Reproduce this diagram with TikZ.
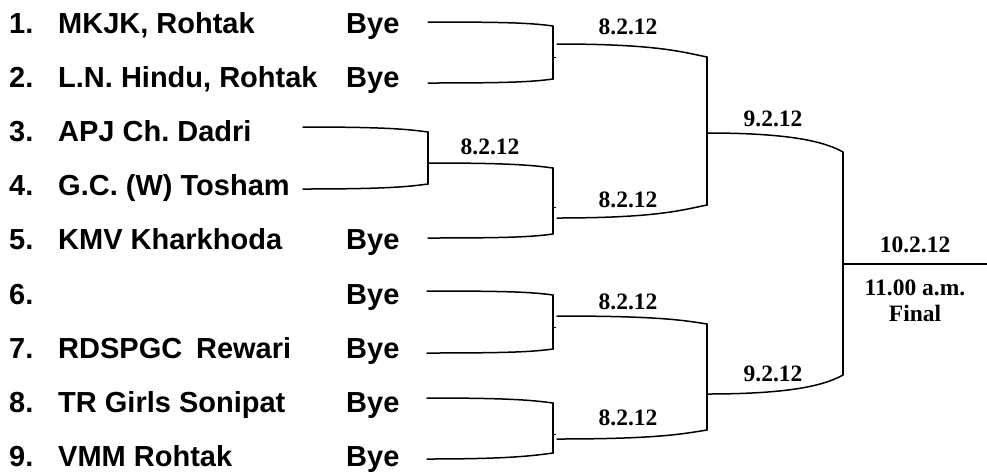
\documentclass[tikz,border=0pt]{standalone}
\usepackage{fontspec}
\setmainfont{Liberation Serif}
\newfontfamily\teamfont{Liberation Sans}
\frenchspacing
\begin{document}
\begin{tikzpicture}[x=1pt,y=-1pt,
  team/.style={anchor=base west,inner sep=0pt,font=\teamfont\bfseries\fontsize{29}{31}\selectfont},
  datelbl/.style={anchor=center,inner sep=0pt,font=\bfseries\fontsize{23.5}{26}\selectfont},
  ln/.style={line width=1.5pt,line cap=round,line join=round}]
\useasboundingbox (0,0) rectangle (987,475);
% team list
\foreach \n/\nm/\by [count=\i from 0] in {1./{MKJK, Rohtak}/Bye, 2./{L.N. Hindu, Rohtak}/Bye, 3./{APJ Ch. Dadri}/, 4./{G.C. (W) Tosham}/, 5./{KMV Kharkhoda}/Bye, 6./{}/Bye, 7./{RDSPGC\hspace{0.2em} Rewari}/Bye, 8./{TR Girls Sonipat}/Bye, 9./{VMM Rohtak}/Bye}{
  \node[team] (num\i) at (9,33+54.2*\i) {\n};
  \node[team] (name\i) at (58,33+54.2*\i) {\nm};
  \node[team] (bye\i) at (346,33+54.2*\i) {\by};
}
% coordinates: round 1
\coordinate (s1) at (428,22);  \coordinate (e1) at (553,26);
\coordinate (s2) at (428,83);  \coordinate (e2) at (553,79);
\coordinate (s3) at (303,127); \coordinate (e3) at (428,132);
\coordinate (s4) at (303,189); \coordinate (e4) at (428,184);
\coordinate (s5) at (428,238); \coordinate (e5) at (553,234);
\coordinate (s6) at (427,291); \coordinate (e6) at (553,295);
\coordinate (s7) at (427,353); \coordinate (e7) at (553,349);
\coordinate (s8) at (427,398); \coordinate (e8) at (553,403);
\coordinate (s9) at (427,459); \coordinate (e9) at (553,453);
% round 1 arms
\foreach \k in {1,3,6,8}{
  \draw[ln] (s\k) .. controls +(80,0) and +(-22,-3) .. (e\k);
}
\foreach \k in {2,4,5,7,9}{
  \draw[ln] (s\k) .. controls +(80,0) and +(-22,3) .. (e\k);
}
% outputs of bracket 3-4
\coordinate (s34) at (428,163); \coordinate (e34) at (553,168);
\draw[ln] (e3) -- (e4);
\draw[ln] (s34) .. controls +(80,0) and +(-22,-3) .. (e34);
% verticals of round-1 brackets at x=553
\draw[ln] (e1) -- (e2);
\draw[ln] (e34) -- (e5);
\draw[ln] (e6) -- (e7);
\draw[ln] (e8) -- (e9);
% small ticks
\foreach \yy in {57,207,327,434}{ \draw[line width=1pt] (553,\yy) -- (556,\yy); }
% round 2 arms
\coordinate (r1s) at (557,44);  \coordinate (r1e) at (707,57);
\coordinate (r2s) at (557,218); \coordinate (r2e) at (707,205);
\coordinate (r3s) at (557,316); \coordinate (r3e) at (707,324);
\coordinate (r4s) at (557,439); \coordinate (r4e) at (707,430);
\draw[ln] (r1s) .. controls +(100,0) and +(-25,-5) .. (r1e);
\draw[ln] (r2s) .. controls +(100,0) and +(-25,5) .. (r2e);
\draw[ln] (r3s) .. controls +(100,0) and +(-25,-4) .. (r3e);
\draw[ln] (r4s) .. controls +(100,0) and +(-25,4) .. (r4e);
\draw[ln] (r1e) -- (r2e);
\draw[ln] (r3e) -- (r4e);
% round 3 arms
\coordinate (q1s) at (707,133); \coordinate (q1e) at (843,152);
\coordinate (q2s) at (707,394); \coordinate (q2e) at (843,375);
\draw[ln] (q1s) .. controls +(85,0) and +(-18,-10) .. (q1e);
\draw[ln] (q2s) .. controls +(85,0) and +(-18,10) .. (q2e);
\draw[ln] (q1e) -- (q2e);
% final
\coordinate (fs) at (843,264); \coordinate (fe) at (987,264);
\draw[ln,line cap=butt] (fs) -- (fe);
% date labels
\node[datelbl] (d1) at (628,27) {8.2.12};
\node[datelbl] (d2) at (490,147) {8.2.12};
\node[datelbl] (d3) at (628,200) {8.2.12};
\node[datelbl] (d4) at (773,119) {9.2.12};
\node[datelbl] (d5) at (628,302) {8.2.12};
\node[datelbl] (d6) at (628,418) {8.2.12};
\node[datelbl] (d7) at (773,374) {9.2.12};
\node[datelbl] (d8) at (915,245) {10.2.12};
\node[datelbl] (d9) at (915,288) {11.00 a.m.};
\node[datelbl] (d10) at (915,313) {Final};
\end{tikzpicture}
\end{document}
